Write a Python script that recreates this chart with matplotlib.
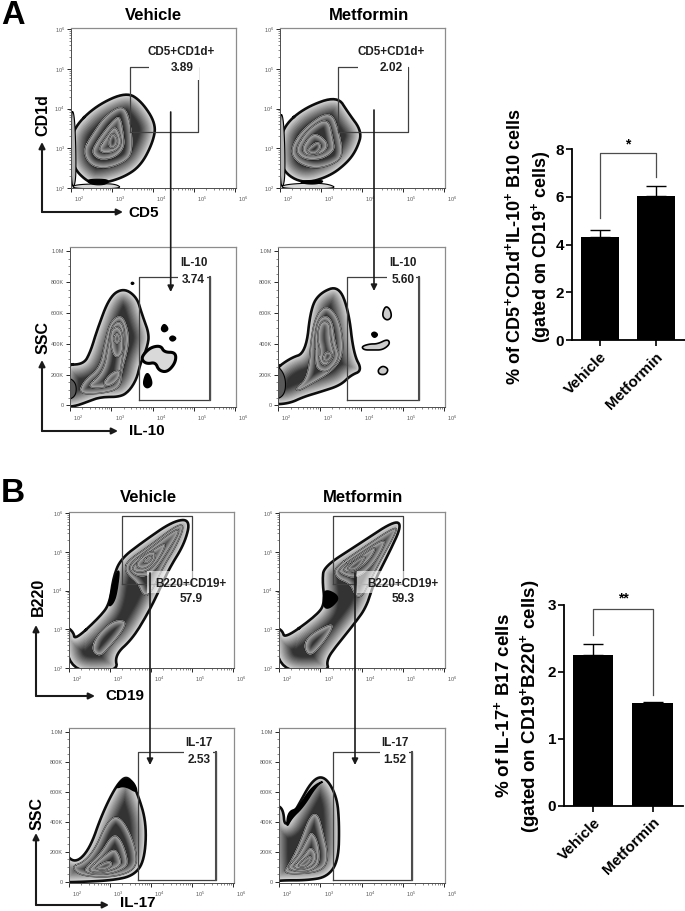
"""
Flow cytometry gating panels with B10 / B17 bar charts
"""
import numpy as np
import matplotlib
matplotlib.use("Agg")
import matplotlib.pyplot as plt
from matplotlib.ticker import FixedLocator, LogLocator, MultipleLocator, NullFormatter
from matplotlib.transforms import ScaledTranslation

plt.rcParams['font.family'] = ['Liberation Sans', 'DejaVu Sans']
plt.rcParams['mathtext.fontset'] = 'custom'
plt.rcParams['mathtext.bf'] = 'Liberation Sans:bold'
plt.rcParams['mathtext.rm'] = 'Liberation Sans'

W, H = 685, 911

# Bar chart values
groups = ["Vehicle", "Metformin"]
b10_mean = [4.31, 6.04]
b10_err = [0.31, 0.42]
b10_ticks = [0, 2, 4, 6, 8]
b17_mean = [2.26, 1.54]
b17_err = [0.16, 0.005]
b17_ticks = [0, 1, 2, 3]

# Contours, x and log-y in log10 units, SSC in thousands. Outer contour first.
a1_rings = [
    [(2.08,3.54),(2.62,4.08),(3.35,4.42),(3.72,4.18),(4.07,3.62),(4.00,3.16),(3.70,2.56),(3.27,2.26),(2.70,2.10),(2.42,2.14),(2.06,2.50),(1.98,3.03)],
    [(2.28,2.95),(2.52,3.36),(2.84,3.84),(3.30,4.12),(3.48,3.54),(3.50,2.90),(3.33,2.66),(2.86,2.48),(2.46,2.56)],
    [(2.50,2.95),(2.70,3.29),(3.02,3.71),(3.20,3.83),(3.28,3.37),(3.31,3.03),(3.10,2.78),(2.78,2.70),(2.58,2.78)],
    [(2.66,2.99),(2.86,3.29),(3.06,3.58),(3.19,3.37),(3.23,3.08),(3.06,2.91),(2.78,2.87)],
    [(2.90,3.20),(3.01,3.41),(3.15,3.24),(3.10,3.03),(2.94,2.99)],
]
a1_blobs = [
    ([(2.00,3.95),(2.08,3.90),(2.12,3.00),(2.12,2.10),(2.00,2.00)], '0.7', 0.8),
    ([(2.05,1.98),(2.05,2.08),(2.70,2.11),(3.10,2.10),(3.25,1.98)], '0.85', 0.8),
    ([(2.35,2.22),(2.95,2.22),(2.85,2.08),(2.50,2.08)], 'k', 0.8),
]
a2_rings = [
    [(2.10,3.58),(2.63,4.04),(3.40,4.32),(3.66,3.90),(4.00,3.42),(3.88,3.00),(3.66,2.66),(3.22,2.30),(2.57,2.10),(2.05,2.42),(1.98,3.03)],
    [(2.24,2.99),(2.59,3.54),(3.24,3.98),(3.46,3.37),(3.54,2.78),(3.24,2.57),(2.81,2.48),(2.38,2.66)],
    [(2.37,2.99),(2.69,3.50),(3.18,3.79),(3.30,3.20),(3.34,2.95),(3.06,2.74),(2.73,2.70),(2.49,2.78)],
    [(2.53,3.03),(2.77,3.37),(2.98,3.33),(3.18,3.12),(3.10,2.91),(2.85,2.82),(2.61,2.82)],
    [(2.65,2.99),(2.93,3.20),(3.02,3.03),(2.89,2.85),(2.69,2.87)],
]
a2_blobs = [
    ([(2.00,3.90),(2.08,3.80),(2.12,3.00),(2.12,2.10),(2.00,2.00)], '0.7', 0.8),
    ([(2.05,1.98),(2.05,2.08),(2.70,2.13),(3.20,2.10),(3.40,1.98)], '0.85', 0.8),
    ([(2.45,2.18),(3.10,2.20),(2.95,2.10),(2.60,2.10)], 'k', 0.8),
]
a3_rings = [
    [(1.85,265),(2.33,265),(2.50,350),(2.65,484),(2.96,705),(3.30,760),(3.62,700),(3.74,591),(3.92,462),(3.87,376),(3.70,269),(3.62,175),(3.44,95),(3.22,55),(2.73,55),(2.41,22),(2.12,-5),(1.85,-10)],
    [(2.20,75),(2.33,161),(2.73,247),(2.85,419),(2.98,548),(3.26,591),(3.42,484),(3.42,376),(3.26,226),(3.22,108),(2.73,75)],
    [(2.37,118),(2.81,215),(2.93,398),(3.02,527),(3.26,548),(3.34,441),(3.26,290),(3.18,161),(2.81,108)],
    [(2.98,500),(3.26,510),(3.30,340),(3.10,300),(2.98,380)],
    [(2.78,140),(2.98,210),(3.22,235),(3.20,170),(2.95,120)],
    [(3.03,430),(3.14,480),(3.25,430),(3.14,390)],
]
a3_blobs = [
    ([(3.75,322),(3.95,376),(4.20,387),(4.28,344),(4.56,344),(4.56,279),(4.36,215),(4.15,226),(4.07,279),(3.87,269),(3.75,290)], '0.85', 2.2),
    ([(4.28,531),(4.39,494),(4.28,473),(4.20,494)], 'k', 1.2),
    ([(4.48,452),(4.58,434),(4.48,413),(4.40,434)], 'k', 1.2),
    ([(3.87,226),(4.01,140),(3.87,108),(3.76,140)], 'k', 1.2),
    ([(3.51,800),(3.56,790),(3.51,780),(3.47,790)], 'k', 0.8),
    ([(1.90,190),(2.15,150),(2.15,60),(1.90,30)], '0.35', 0.8),
]
a4_rings = [
    [(1.85,215),(2.28,305),(2.67,340),(2.79,634),(3.02,730),(3.46,775),(3.70,613),(3.82,333),(4.03,226),(3.75,195),(3.50,130),(3.02,88),(2.61,55),(2.28,14),(1.85,5)],
    [(2.41,108),(2.73,183),(2.81,484),(2.98,613),(3.22,645),(3.50,548),(3.59,333),(3.34,226),(2.81,140),(2.49,92)],
    [(2.89,269),(2.89,484),(3.02,580),(3.30,570),(3.38,398),(3.50,312),(3.22,215),(2.98,226)],
    [(2.98,290),(3.02,355),(2.94,441),(3.02,548),(3.26,538),(3.26,419),(3.38,322),(3.14,247)],
    [(3.06,290),(3.14,355),(3.34,333),(3.22,280)],
]
a4_blobs = [
    ([(4.58,645),(4.70,624),(4.74,570),(4.62,548),(4.50,580)], '0.8', 1.2),
    ([(4.24,462),(4.32,477),(4.41,458),(4.32,436)], 'k', 1.2),
    ([(4.01,381),(4.20,398),(4.40,398),(4.64,430),(4.70,398),(4.52,359),(4.28,359),(4.07,359)], '0.8', 1.2),
    ([(4.40,230),(4.52,258),(4.66,236),(4.60,200),(4.44,200)], '0.8', 1.2),
    ([(1.90,280),(2.18,200),(2.18,70),(1.90,30)], '0.35', 0.8),
]
b1_rings = [
    [(2.14,2.72),(2.75,3.32),(2.99,3.66),(3.08,4.35),(3.26,4.82),(3.80,5.26),(4.54,5.80),(4.96,5.84),(4.82,5.22),(4.44,4.57),(4.16,3.92),(3.92,3.41),(3.55,2.76),(3.11,2.33),(3.20,1.90),(2.00,1.90),(1.90,3.10),(2.11,2.93)],
    [(2.54,2.46),(2.67,2.84),(3.07,3.23),(3.40,3.23),(3.32,2.97),(2.99,2.54),(2.75,2.28)],
    [(3.36,4.57),(3.44,4.78),(3.93,5.13),(4.62,5.69),(4.82,5.69),(4.62,5.17),(4.29,4.61),(3.97,3.88),(3.80,3.88),(3.68,4.18),(3.44,4.40)],
    [(3.44,4.66),(3.93,5.05),(4.62,5.61),(4.70,5.52),(4.37,4.96),(4.13,4.57),(3.89,4.35),(3.56,4.40)],
    [(3.52,4.61),(3.97,5.00),(4.37,5.26),(4.29,5.00),(4.09,4.66),(3.85,4.48),(3.60,4.48)],
    [(3.64,4.74),(3.93,5.00),(4.11,5.00),(4.09,4.78),(3.89,4.57),(3.68,4.57)],
    [(3.80,4.78),(3.97,4.91),(4.05,4.89),(3.97,4.74),(3.85,4.70)],
]
b1_blobs = [([(2.95,3.58),(3.09,4.27),(3.24,4.61),(3.16,3.92),(3.07,3.66)], 'k', 1.2)]
b2_rings = [
    [(2.14,2.76),(2.91,3.36),(3.11,3.66),(3.05,4.27),(3.09,4.62),(3.89,5.17),(4.78,5.80),(4.98,5.70),(4.66,4.96),(4.32,4.27),(4.12,3.58),(3.83,3.15),(3.43,2.63),(3.14,2.20),(3.22,1.90),(2.00,1.90),(1.90,3.06),(2.08,2.97)],
    [(2.59,2.54),(2.71,2.84),(3.24,3.15),(3.32,3.06),(3.07,2.63),(2.75,2.28)],
    [(3.32,4.57),(3.89,5.00),(4.86,5.69),(4.82,5.47),(4.46,4.78),(4.17,4.18),(4.01,3.84),(3.85,3.84),(3.72,4.18),(3.40,4.31)],
    [(3.40,4.53),(3.97,4.96),(4.62,5.39),(4.46,4.96),(4.17,4.53),(3.85,4.31),(3.56,4.40)],
    [(3.52,4.57),(4.01,4.91),(4.37,5.17),(4.25,4.87),(3.97,4.57),(3.68,4.44)],
    [(3.64,4.61),(4.01,4.89),(4.11,4.87),(3.93,4.57),(3.72,4.50)],
]
b2_blobs = [([(3.07,3.75),(3.11,4.05),(3.48,3.84),(3.28,3.58),(3.11,3.53)], 'k', 1.2)]
b3_rings = [
    [(1.85,205),(2.14,118),(2.50,213),(2.81,455),(3.18,655),(3.44,710),(3.67,590),(3.89,389),(3.84,140),(3.58,40),(3.07,8),(2.26,-3),(1.85,-5)],
    [(2.06,103),(2.34,125),(2.63,213),(2.91,389),(3.15,444),(3.40,378),(3.64,213),(3.64,81),(3.07,26),(2.26,37)],
    [(2.34,81),(2.75,180),(3.07,323),(3.28,279),(3.44,147),(3.40,92),(3.00,48),(2.50,48)],
    [(2.46,81),(2.83,169),(3.11,224),(3.24,169),(3.28,103),(2.91,64),(2.59,59)],
    [(2.59,92),(3.00,147),(3.07,103),(2.83,70)],
]
b3_blobs = [([(3.11,620),(3.32,686),(3.56,675),(3.69,587),(3.36,642)], 'k', 1.2)]
b4_rings = [
    [(1.85,510),(2.10,495),(2.14,350),(2.46,505),(2.81,680),(3.11,705),(3.40,570),(3.46,389),(3.44,140),(3.17,30),(2.67,8),(2.10,8),(1.85,0)],
    [(2.26,125),(2.50,257),(2.75,444),(2.95,455),(3.07,323),(3.20,169),(3.07,70),(2.42,48),(2.10,59)],
    [(2.18,92),(2.46,169),(2.71,301),(2.79,334),(2.95,268),(3.00,125),(2.79,70),(2.42,64)],
    [(2.30,92),(2.59,169),(2.75,235),(2.91,191),(2.87,114),(2.59,77)],
    [(2.42,103),(2.75,180),(2.81,147),(2.63,92)],
]
b4_blobs = [([(2.18,356),(2.22,466),(2.46,488),(2.79,631),(3.11,675),(2.91,642),(2.59,499),(2.30,422)], 'k', 1.2)]

fig = plt.figure(figsize=(W / 100, H / 100), dpi=100)


def px_axes(x0, y0, x1, y1):
    return fig.add_axes([x0 / W, 1 - y1 / H, (x1 - x0) / W, (y1 - y0) / H])


def smooth(points, n=3):
    # Chaikin corner cutting on a closed outline
    pts = np.array(points, dtype=float)
    for _ in range(n):
        nxt = np.roll(pts, -1, axis=0)
        pts = np.column_stack((0.75 * pts + 0.25 * nxt, 0.25 * pts + 0.75 * nxt)).reshape(-1, 2)
    return np.vstack((pts, pts[:1]))


def to_data(points, ssc):
    pts = smooth(points)
    x = 10 ** pts[:, 0]
    y = pts[:, 1] if ssc else 10 ** pts[:, 1]
    return x, y


def zebra(ax, ring, ssc, depth, edge_lw, outer):
    # Dark core with light rim: wide to narrow strokes clipped to the contour
    x, y = to_data(ring, ssc)
    poly = ax.fill(x, y, color='0.2', lw=0, zorder=2)[0]
    widths = np.linspace(depth, 0.5, 14)
    grays = np.linspace(0.22, 0.9 if outer else 0.72, 14)
    for w, g in zip(widths, grays):
        line = ax.plot(x, y, color=str(round(g, 3)), lw=w, zorder=2)[0]
        line.set_clip_path(poly)
    ax.plot(x, y, color='0.05', lw=edge_lw, zorder=2)
    if not outer:
        ax.plot(x, y, color='0.92', lw=edge_lw * 0.35, zorder=2)


def flow_panel(box, rings, blobs, ssc, gate_x, gate_y, name, name_xy, value, value_xy, patch=None, alpha=1.0):
    ax = px_axes(*box)
    ax.set_xscale('log')
    ax.set_xlim(100, 10 ** 6.02)
    ax.xaxis.set_major_locator(FixedLocator([1e2, 1e3, 1e4, 1e5, 1e6]))
    ax.xaxis.set_minor_locator(LogLocator(base=10, subs=np.arange(2, 10)))
    ax.xaxis.set_minor_formatter(NullFormatter())
    if ssc:
        ax.set_ylim(-10, 1025)
        ax.set_yticks([0, 200, 400, 600, 800, 1000])
        ax.set_yticklabels(['0', '200K', '400K', '600K', '800K', '1.0M'])
        ax.yaxis.set_minor_locator(MultipleLocator(50))
    else:
        ax.set_yscale('log')
        ax.set_ylim(100, 10 ** 6.03)
        ax.yaxis.set_major_locator(FixedLocator([1e2, 1e3, 1e4, 1e5, 1e6]))
        ax.yaxis.set_minor_locator(LogLocator(base=10, subs=np.arange(2, 10)))
        ax.yaxis.set_minor_formatter(NullFormatter())
    ax.tick_params(which='major', length=3, width=0.7, color='0.15', labelsize=4, labelcolor='0.35', pad=1.5)
    ax.tick_params(which='minor', length=1.5, width=0.5, color='0.35')
    # The labels sit to the right of their ticks in the original export
    shift = ScaledTranslation(6 / 72, 0, fig.dpi_scale_trans)
    for tick_label in ax.get_xticklabels():
        tick_label.set_transform(tick_label.get_transform() + shift)
    for side in ['top', 'right']:
        ax.spines[side].set_color('0.55')
        ax.spines[side].set_linewidth(0.9)
    for side in ['left', 'bottom']:
        ax.spines[side].set_color('0.3')
        ax.spines[side].set_linewidth(0.7)

    for i, ring in enumerate(rings):
        if i == 0:
            zebra(ax, ring, ssc, 22, 1.9, True)
        else:
            zebra(ax, ring, ssc, 10 if i < len(rings) - 1 else 6, 0.9, False)
    for blob, color, lw in blobs:
        x, y = to_data(blob, ssc)
        ax.fill(x, y, facecolor=color, edgecolor='k', lw=lw, zorder=2.5)

    xs = 10 ** np.array([gate_x[0], gate_x[1], gate_x[1], gate_x[0], gate_x[0]])
    ys = [gate_y[0], gate_y[0], gate_y[1], gate_y[1], gate_y[0]]
    if not ssc:
        ys = 10 ** np.array(ys)
    ax.plot(xs, ys, color='0.25', lw=0.9, zorder=3)
    if ssc:
        ax.plot(xs[1:3], ys[1:3], color='0.3', lw=1.5, zorder=3)
    if patch is not None:
        px = 10 ** np.array([patch[0], patch[1], patch[1], patch[0]])
        py = [patch[2], patch[2], patch[3], patch[3]]
        if not ssc:
            py = 10 ** np.array(py)
        ax.fill(px, py, color='w', alpha=alpha, lw=0, zorder=3.5)

    for text, pos, size in [(name, name_xy, 8.4), (value, value_xy, 8.6)]:
        yv = pos[1] if ssc else 10 ** pos[1]
        ax.text(10 ** pos[0], yv, text, ha='center', va='center', fontsize=size,
                fontweight='bold', color='0.12', zorder=4)
    return ax


def bar_panel(box, means, errs, ticks, top, xlim, bracket, stars, star_y):
    ax = px_axes(*box)
    xpos = np.arange(len(groups))
    ax.bar(xpos, means, width=0.68, color='k', zorder=2)
    ax.errorbar(xpos, means, yerr=[[0, 0], errs], fmt='none', ecolor='k', elinewidth=1.0,
                capsize=7, capthick=1.0, zorder=1)
    ax.set_xlim(*xlim)
    ax.set_ylim(0, top)
    ax.set_yticks(ticks)
    ax.set_xticks(xpos)
    ax.set_xticklabels(groups, rotation=45, ha='right', rotation_mode='anchor')
    ax.tick_params(axis='y', width=1.2, length=4, labelsize=11, pad=1.5)
    ax.tick_params(axis='x', width=1.2, length=4, labelsize=11, pad=3)
    for tick_label in ax.get_xticklabels() + ax.get_yticklabels():
        tick_label.set_fontweight('bold')
    for side in ['top', 'right']:
        ax.spines[side].set_visible(False)
    for side in ['left', 'bottom']:
        ax.spines[side].set_linewidth(1.3)
    ax.plot([0, 0, 1, 1], bracket, color='0.3', lw=0.9, clip_on=False, zorder=3)
    ax.text(0.5, star_y, stars, ha='center', va='center', fontsize=10, fontweight='bold', clip_on=False)
    return ax


flow_panel((71, 28, 236, 188), a1_rings, a1_blobs, False, (3.43, 5.10), (3.41, 5.05),
           "CD5+CD1d+", (4.69, 5.43), "3.89", (4.70, 5.01), patch=(3.90, 5.12, 4.72, 5.12))
flow_panel((280, 28, 445, 188), a2_rings, a2_blobs, False, (3.42, 5.11), (3.41, 5.05),
           "CD5+CD1d+", (4.72, 5.43), "2.02", (4.72, 5.01), patch=(3.90, 5.13, 4.72, 5.12))
flow_panel((70, 247, 236, 407), a3_rings, a3_blobs, True, (3.67, 5.40), (37, 832),
           "IL-10", (4.99, 920), "3.74", (4.99, 813), patch=(4.62, 5.32, 790, 845))
flow_panel((278, 247, 445, 407), a4_rings, a4_blobs, True, (3.67, 5.40), (37, 832),
           "IL-10", (5.01, 920), "5.60", (5.01, 813), patch=(4.62, 5.32, 790, 845))
flow_panel((69, 512, 234, 668), b1_rings, b1_blobs, False, (3.30, 5.00), (4.16, 5.92),
           "B220+CD19+", (4.98, 4.18), "57.9", (4.98, 3.77), patch=(3.90, 5.05, 3.95, 4.50), alpha=0.6)
flow_panel((279, 512, 445, 668), b2_rings, b2_blobs, False, (3.30, 5.00), (4.16, 5.92),
           "B220+CD19+", (5.00, 4.18), "59.3", (5.00, 3.77), patch=(3.90, 5.05, 3.95, 4.50), alpha=0.6)
flow_panel((69, 728, 234, 883), b3_rings, b3_blobs, True, (3.67, 5.57), (9, 867),
           "IL-17", (5.17, 924), "2.53", (5.17, 814), patch=(4.80, 5.50, 850, 885))
flow_panel((279, 728, 445, 883), b4_rings, b4_blobs, True, (3.30, 5.21), (9, 867),
           "IL-17", (4.80, 924), "1.52", (4.80, 814), patch=(4.45, 5.15, 850, 885))

bar_panel((572, 149.3, 685, 340), b10_mean, b10_err, b10_ticks, 8, (-0.495, 1.52),
          [5.10, 7.86, 7.86, 6.83], "*", 8.2)
bar_panel((564, 605, 682.7, 805.7), b17_mean, b17_err, b17_ticks, 3, (-0.493, 1.505),
          [2.55, 2.94, 2.94, 1.65], "**", 3.1)

# Overlay in pixel units for headings, gate arrows and axis names
ov = fig.add_axes([0, 0, 1, 1], zorder=10)
ov.set_xlim(0, W)
ov.set_ylim(H, 0)
ov.axis('off')


def arrow(x0, y0, x1, y1, lw=1.5, scale=9):
    ov.annotate('', xy=(x1, y1), xytext=(x0, y0),
                arrowprops=dict(arrowstyle='-|>', lw=lw, color='0.1', shrinkA=0, shrinkB=0, mutation_scale=scale))


def label(x, y, text, size, rotation=0):
    ov.text(x, y, text, ha='center', va='center', fontsize=size, fontweight='bold', rotation=rotation)


label(13, 15, "A", 23.5)
label(13, 494, "B", 24)
for x, y, text in [(153, 15, "Vehicle"), (369, 15, "Metformin"), (148, 498, "Vehicle"), (363, 498, "Metformin")]:
    label(x, y, text, 12)

for x0, y0, y1 in [(170.7, 112, 292), (374, 110, 291), (150, 573, 765), (355, 573, 765)]:
    arrow(x0, y0, x0, y1, lw=1.2)

for xa, ya, top, tip in [(42, 212, 142, 123), (42, 431, 360, 118), (36, 696, 625, 95), (36, 905, 833, 109)]:
    arrow(xa, ya, xa, top)
    arrow(xa, ya, tip, ya)

for x, y, text in [(144, 213, "CD5"), (147, 431, "IL-10"), (125, 696, "CD19"), (138, 903, "IL-17")]:
    label(x, y, text, 11)
for x, y, text in [(43, 115, "CD1d"), (43, 338, "SSC"), (38, 597, "B220"), (37, 813, "SSC")]:
    label(x, y, text, 11.5, rotation=90)

sup = r"$^{\mathbf{+}}$"
label(514, 247, f"% of CD5{sup}CD1d{sup}IL-10{sup} B10 cells", 13, rotation=90)
label(541, 247, f"(gated on CD19{sup} cells)", 13, rotation=90)
label(504, 706, f"% of IL-17{sup} B17 cells", 13.5, rotation=90)
label(531, 706, f"(gated on CD19{sup}B220{sup} cells)", 13.5, rotation=90)

fig.savefig("out.png", dpi=100, facecolor='w')
